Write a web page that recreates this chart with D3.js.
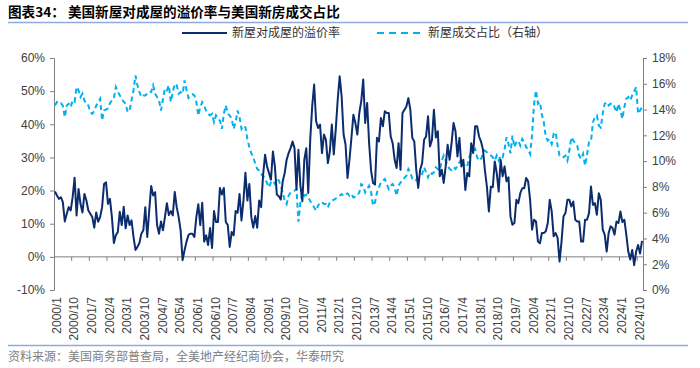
<!DOCTYPE html>
<html><head><meta charset="utf-8">
<script src="https://cdn.jsdelivr.net/npm/d3@7/dist/d3.min.js"></script>
<style>
body{margin:0;background:#fff;}
svg{display:block;}
</style></head>
<body><svg id="c" width="700" height="368"></svg>
<script>
// ---- DATA ----
const startYear = 2000, nMonths = 300; // 2000/1 .. 2024/12
const months = [];
for (let i = 0; i < nMonths; i++) months.push((startYear + Math.floor(i / 12)) + "/" + (i % 12 + 1));

const tickLabels = ["2000/1","2000/10","2001/7","2002/4","2003/1","2003/10","2004/7","2005/4","2006/1","2006/10","2007/7","2008/4","2009/1","2009/10","2010/7","2011/4","2012/1","2012/10","2013/7","2014/4","2015/1","2015/10","2016/7","2017/4","2018/1","2018/10","2019/7","2020/4","2021/1","2021/10","2022/7","2023/4","2024/1","2024/10"];

const leftTicks = [-10,0,10,20,30,40,50,60];
const rightTicks = [0,2,4,6,8,10,12,14,16,18];

// 新屋对成屋的溢价率 (%) monthly
const premium = [
19.7,18.5,17.5,18.0,16.5,10.7,13.0,15.0,14.0,18.0,23.9,12.5,
20.5,16.0,13.4,19.0,17.0,14.0,13.0,12.0,8.8,13.4,10.6,12.0,
15.0,22.0,22.5,16.0,17.5,12.0,4.2,6.5,7.5,13.6,9.6,15.1,
8.6,12.5,9.6,11.0,6.0,2.1,3.0,4.2,7.0,8.0,15.0,6.0,
14.0,21.4,18.5,19.5,9.6,7.0,10.7,8.0,12.0,16.2,12.6,13.8,
12.5,19.6,15.0,12.0,8.0,-1.0,2.0,4.6,6.6,7.0,7.0,6.0,
12.0,15.9,9.6,16.3,4.6,6.5,3.6,8.7,2.7,13.8,10.5,10.5,
20.8,18.8,20.8,10.5,9.6,3.0,7.5,6.5,13.8,13.3,19.0,11.0,
17.0,25.4,17.0,22.0,12.0,8.8,12.3,8.8,17.0,15.0,24.7,30.8,
27.3,25.3,23.3,31.8,27.3,18.8,18.3,17.3,22.8,25.3,29.3,31.3,
32.8,34.8,32.8,20.3,32.3,21.5,16.8,29.3,32.8,19.3,35.3,45.4,
52.0,40.9,38.9,39.9,31.3,36.9,35.3,28.3,31.8,39.9,30.9,38.4,
47.4,54.5,48.4,36.9,33.9,23.8,29.3,36.0,42.9,40.4,36.9,43.4,
47.0,53.5,40.4,46.4,34.3,26.0,22.3,21.8,35.9,34.8,41.9,39.4,
43.9,43.4,43.4,36.3,34.3,29.3,26.8,34.3,26.3,43.4,44.4,45.4,
47.9,44.4,35.9,34.8,26.3,20.8,26.3,28.3,35.3,36.3,42.4,33.3,
35.3,44.4,36.0,37.9,24.3,26.3,22.3,27.3,33.8,29.3,34.3,40.4,
37.9,30.3,35.9,27.3,29.3,20.2,25.3,24.3,34.3,31.3,39.4,39.4,
36.3,34.8,32.3,26.0,21.2,13.7,21.2,21.0,28.8,25.3,19.7,29.3,
24.3,27.3,22.8,24.0,12.2,9.7,10.2,17.2,16.2,19.2,20.7,20.7,
23.8,22.8,17.2,8.2,11.2,10.7,4.6,4.1,7.2,7.2,7.7,10.2,
17.2,13.7,6.2,7.2,5.7,-1.4,4.6,12.2,13.2,17.2,17.2,15.2,
16.7,11.2,10.7,10.7,4.6,4.6,11.2,11.2,13.2,21.2,15.7,16.2,
12.7,19.2,17.2,8.2,6.7,1.6,7.2,9.2,8.7,6.7,10.7,10.2,
13.7,10.5,11.2,6.7,1.6,-0.8,2.1,-2.5,1.6,3.6,1.0,4.8
];

// 新屋成交占比 (%), right axis, monthly
const share = [
14.32,14.58,14.45,14.5,14.3,13.41,14.32,14.45,14.19,14.71,14.6,15.75,
15.49,14.97,15.23,14.7,14.4,14.32,13.8,13.67,13.9,14.3,14.58,14.84,
13.15,13.93,14.0,14.1,14.5,14.71,14.84,15.75,15.4,15.1,14.84,14.6,
14.45,13.8,13.93,14.71,15.5,16.65,15.88,15.36,14.97,15.1,15.1,15.23,
15.4,15.36,15.88,15.23,14.97,14.71,13.93,14.8,15.62,15.49,15.88,14.6,
15.36,16.0,15.88,15.23,15.36,15.23,16.26,15.49,14.9,15.1,15.2,15.1,
14.6,13.54,14.19,14.58,14.3,13.9,13.67,13.54,13.67,13.02,13.54,13.3,
13.15,12.5,13.67,14.32,13.67,13.54,13.28,12.5,13.02,13.93,13.4,12.5,
12.76,12.63,11.72,11.08,10.6,10.3,9.8,9.4,9.26,9.0,8.87,8.65,
8.3,7.96,8.35,8.48,8.22,8.61,8.5,8.09,7.57,6.93,6.67,7.31,
7.57,7.6,7.7,7.83,5.3,6.8,7.57,7.31,7.4,7.2,6.9,6.67,
6.4,6.15,6.54,6.8,6.8,6.67,6.67,6.41,6.8,6.93,7.0,7.1,
7.2,7.31,7.44,7.3,7.44,7.5,7.31,7.44,7.18,7.25,7.31,7.57,
8.22,8.09,7.57,7.83,8.09,7.6,6.54,6.8,7.57,7.96,8.35,8.48,
8.61,8.22,7.83,8.09,8.22,7.96,7.31,8.09,8.35,8.48,8.7,8.87,
9.39,9.13,8.61,8.48,8.55,8.65,8.74,9.0,9.52,9.13,8.74,9.13,
9.0,9.13,9.52,9.39,9.26,10.04,10.43,10.04,9.65,9.39,9.3,9.52,
9.39,9.65,9.91,10.17,9.78,9.52,9.6,10.3,10.69,10.82,10.95,10.3,
10.04,10.17,10.56,10.82,10.69,10.56,10.43,10.3,10.04,10.43,10.04,10.43,
10.3,10.95,11.85,11.33,10.6,11.98,11.08,11.46,11.59,11.2,11.72,11.46,
11.08,10.9,10.56,12.0,14.45,15.49,14.45,14.58,13.6,13.02,11.85,11.59,
11.72,11.33,12.11,12.24,11.2,10.43,10.43,10.3,10.43,10.04,10.82,11.85,
11.59,11.4,11.2,10.43,10.17,10.56,9.65,10.5,11.46,11.5,13.02,13.41,
13.54,12.76,12.6,13.7,14.45,14.58,14.32,14.45,14.5,14.19,13.8,14.45,
13.93,13.28,14.2,14.84,14.97,14.71,15.1,15.4,15.75,13.67,13.93,14.19
];

const seriesNames = ["新屋对成屋的溢价率", "新屋成交占比（右轴）"];
const titleText = "图表34：  美国新屋对成屋的溢价率与美国新房成交占比";
const sourceText = "资料来源：美国商务部普查局，全美地产经纪商协会，华泰研究";

// ---- DRAW ----
const svg = d3.select("#c");
const L = 54, R = 643, T = 58, B = 290;
const dark = "#0b2d6e", light = "#00b0f0", axisC = "#808080", txtC = "#404040";
const cjk = "'Noto Sans CJK SC','Noto Sans',sans-serif";
const latin = "'Liberation Sans',Arial,sans-serif";

const x = d3.scaleBand().domain(months).range([L, R]).paddingInner(0).paddingOuter(0);
const bw = x.bandwidth();
const yL = d3.scaleLinear().domain([-10, 60]).range([B, T]);
const yR = d3.scaleLinear().domain([0, 18]).range([B, T]);

// title
svg.append("text").attr("x", 8).attr("y", 17).attr("font-family", cjk)
  .attr("font-size", 13.6).attr("font-weight", "bold").attr("fill", "#000").text(titleText);
svg.append("line").attr("x1", 8).attr("x2", 688).attr("y1", 22.5).attr("y2", 22.5)
  .attr("stroke", "#8faadc").attr("stroke-width", 1.5);

// legend
const lg = svg.append("g");
lg.append("line").attr("x1", 182).attr("x2", 227).attr("y1", 33).attr("y2", 33)
  .attr("stroke", dark).attr("stroke-width", 2);
lg.append("text").attr("x", 232).attr("y", 37).attr("font-family", cjk).attr("font-size", 12)
  .attr("fill", "#333").text(seriesNames[0]);
lg.append("line").attr("x1", 377).attr("x2", 421).attr("y1", 33).attr("y2", 33)
  .attr("stroke", light).attr("stroke-width", 2).attr("stroke-dasharray", "7,5");
lg.append("text").attr("x", 428).attr("y", 37).attr("font-family", cjk).attr("font-size", 12)
  .attr("fill", "#333").text(seriesNames[1]);

// left axis
const gl = svg.append("g").attr("transform", `translate(${L},0)`)
  .call(d3.axisLeft(yL).tickValues(leftTicks).tickSize(4).tickPadding(5).tickFormat(d => d + "%"));
// right axis
const gr = svg.append("g").attr("transform", `translate(${R},0)`)
  .call(d3.axisRight(yR).tickValues(rightTicks).tickSize(4).tickPadding(5).tickFormat(d => d + "%"));
[gl, gr].forEach(g => {
  g.select(".domain").attr("stroke", axisC).attr("stroke-width", 1);
  g.selectAll(".tick line").attr("stroke", axisC);
  g.selectAll(".tick text").attr("font-family", latin).attr("font-size", 12).attr("fill", txtC);
});

// zero line with category ticks
const y0 = yL(0);
svg.append("line").attr("x1", L).attr("x2", R).attr("y1", y0).attr("y2", y0)
  .attr("stroke", axisC).attr("stroke-width", 1);
const tickIdx = d3.range(9, nMonths, 9);
svg.append("g").selectAll("line").data(tickIdx).join("line")
  .attr("x1", i => x(months[i])).attr("x2", i => x(months[i]))
  .attr("y1", y0).attr("y2", y0 + 4).attr("stroke", axisC);

// x labels (low position, rotated)
svg.append("g").selectAll("text").data(tickLabels).join("text")
  .attr("transform", d => `translate(${x(d) + bw / 2 + 1.5},${B + 7}) rotate(-90)`)
  .attr("text-anchor", "end").attr("dy", "0.35em")
  .attr("font-family", latin).attr("font-size", 12).attr("fill", txtC).text(d => d);

// series lines
const lineL = d3.line().x((d, i) => x(months[i]) + bw / 2).y(d => yL(d));
const lineR = d3.line().x((d, i) => x(months[i]) + bw / 2).y(d => yR(d));
svg.append("path").datum(share).attr("d", lineR).attr("fill", "none")
  .attr("stroke", light).attr("stroke-width", 2).attr("stroke-dasharray", "5,3.5");
svg.append("path").datum(premium).attr("d", lineL).attr("fill", "none")
  .attr("stroke", dark).attr("stroke-width", 2).attr("stroke-linejoin", "round");

// bottom rule & source
svg.append("line").attr("x1", 8).attr("x2", 688).attr("y1", 345.5).attr("y2", 345.5)
  .attr("stroke", "#8faadc").attr("stroke-width", 1.5);
svg.append("text").attr("x", 8).attr("y", 361).attr("font-family", cjk).attr("font-size", 12)
  .attr("fill", "#808080").text(sourceText);
</script></body></html>
